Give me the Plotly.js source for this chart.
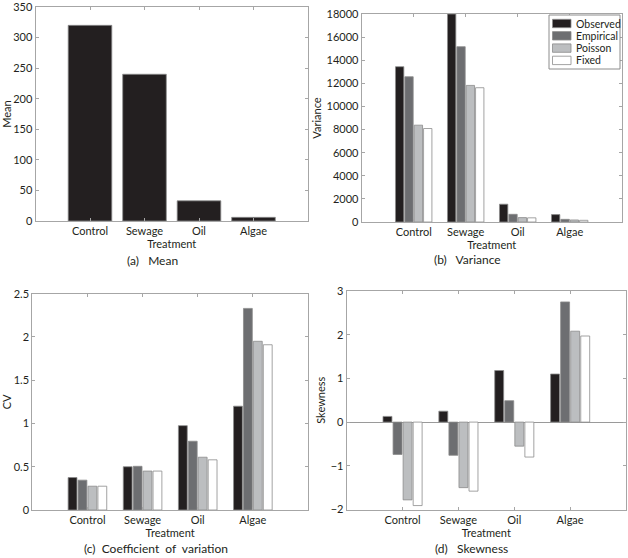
<!DOCTYPE html>
<html>
<head>
<meta charset="utf-8">
<script src="https://cdn.plot.ly/plotly-3.0.1.min.js"></script>
<style>html,body{margin:0;padding:0;background:#fff;}#chart{width:628px;height:558px;}</style>
</head>
<body>
<div id="chart"></div>
<script>
// ---- data ----
const categories = ['Control', 'Sewage', 'Oil', 'Algae'];
const seriesNames = ['Observed', 'Empirical', 'Poisson', 'Fixed'];

const meanValues = [320, 240, 33, 6];

const varObserved  = [13440, 18000, 1540, 640];
const varEmpirical = [12570, 15170, 665, 230];
const varPoisson   = [8380, 11820, 380, 175];
const varFixed     = [8090, 11620, 360, 145];

const cvObserved  = [0.375, 0.50, 0.975, 1.20];
const cvEmpirical = [0.345, 0.505, 0.795, 2.33];
const cvPoisson   = [0.275, 0.45, 0.61, 1.95];
const cvFixed     = [0.275, 0.45, 0.58, 1.91];

const skObserved  = [0.13, 0.25, 1.18, 1.10];
const skEmpirical = [-0.74, -0.76, 0.49, 2.75];
const skPoisson   = [-1.78, -1.50, -0.55, 2.08];
const skFixed     = [-1.91, -1.58, -0.80, 1.97];

const meanTicks = [0, 50, 100, 150, 200, 250, 300, 350];
const varTicks  = [0, 2000, 4000, 6000, 8000, 10000, 12000, 14000, 16000, 18000];
const cvTicks   = [0, 0.5, 1, 1.5, 2, 2.5];
const skTicks   = [-2, -1, 0, 1, 2, 3];

// ---- styling ----
const colors = ['#231f20', '#6d6e71', '#bcbec0', '#ffffff'];
const EDGE = '#8c8c8c';
const edge = {color: EDGE, width: 0.8};
const FONT = 'Lato, "Open Sans", sans-serif';
const TXT = '#231f20';
const AX = '#a6a6a6';
const EPS = 1e-6;

function groupTraces(vals, xa, ya) {
  return vals.map((v, i) => ({
    type: 'bar', x: categories, y: v, name: seriesNames[i],
    xaxis: xa, yaxis: ya, showlegend: false,
    marker: {color: colors[i], line: edge}
  }));
}

const traces = [
  {type: 'bar', x: categories, y: meanValues, name: 'Mean', xaxis: 'x', yaxis: 'y',
   width: 0.8, showlegend: false, marker: {color: colors[0], line: edge}},
  ...groupTraces([varObserved, varEmpirical, varPoisson, varFixed], 'x2', 'y2'),
  ...groupTraces([cvObserved, cvEmpirical, cvPoisson, cvFixed], 'x3', 'y3'),
  ...groupTraces([skObserved, skEmpirical, skPoisson, skFixed], 'x4', 'y4')
];

function xax(domain, anchor) {
  return {
    domain: domain, anchor: anchor, type: 'category', range: [-1, 4],
    showline: true, linecolor: AX, linewidth: 1, mirror: 'ticks',
    ticks: 'inside', ticklen: 3, tickcolor: AX, showgrid: false, zeroline: false,
    tickfont: {family: FONT, size: 11, color: TXT},
    title: {text: 'Treatment', font: {family: FONT, size: 11, color: TXT}, standoff: 0},
    automargin: false, fixedrange: true
  };
}
function yax(domain, anchor, ticks, title, standoff, zl) {
  const span = ticks[ticks.length - 1] - ticks[0];
  return {
    domain: domain, anchor: anchor,
    range: [ticks[0], ticks[ticks.length - 1] + span * EPS],
    tickmode: 'array', tickvals: ticks, tickformat: 'd',
    ticklabeloverflow: 'allow',
    showline: true, linecolor: AX, linewidth: 1, mirror: 'ticks',
    ticks: 'inside', ticklen: 3, tickcolor: AX, showgrid: false,
    zeroline: !!zl, zerolinecolor: '#9a9a9a', zerolinewidth: 1,
    tickfont: {family: FONT, size: 11, color: TXT},
    title: {text: title, font: {family: FONT, size: 11, color: TXT}, standoff: standoff},
    automargin: false, fixedrange: true
  };
}

const W = 628, H = 558;
const px = (a, b) => [a / W, b / W];
const py = (top, bottom) => [1 - bottom / H, 1 - top / H];

const yaxis3 = yax(py(293.7, 510), 'x3', cvTicks, 'CV', 2);
yaxis3.tickformat = '';
const yaxis4 = yax(py(291, 509.5), 'x4', skTicks, 'Skewness', 2, true);

// ---- hand-drawn legend box for panel (b) (paper pixel positions) ----
const LEG = {x0: 549, x1: 620, y0: 15, y1: 69, sw0: 552.5, sw1: 571, textX: 573.5, row0: 23.5, rowStep: 12.3, swH: 8.4};
const shapes = [{type: 'rect', xref: 'paper', yref: 'paper',
  x0: LEG.x0 / W, x1: LEG.x1 / W, y0: 1 - LEG.y1 / H, y1: 1 - LEG.y0 / H,
  line: {color: EDGE, width: 1}, fillcolor: '#fff', layer: 'above'}];
const legendText = [];
seriesNames.forEach((name, i) => {
  const cy = LEG.row0 + i * LEG.rowStep;
  shapes.push({type: 'rect', xref: 'paper', yref: 'paper',
    x0: LEG.sw0 / W, x1: LEG.sw1 / W, y0: 1 - (cy + LEG.swH / 2) / H, y1: 1 - (cy - LEG.swH / 2) / H,
    line: {color: EDGE, width: 0.8}, fillcolor: colors[i], layer: 'above'});
  legendText.push({text: name, x: LEG.textX / W, y: 1 - cy / H, xanchor: 'left', yanchor: 'middle',
    font: {family: FONT, size: 10.5, color: TXT}});
});

const capFont = {family: FONT, size: 12, color: TXT};
const layout = {
  width: W, height: H,
  margin: {l: 0, r: 0, t: 0, b: 0},
  paper_bgcolor: '#fff', plot_bgcolor: '#fff',
  showlegend: false,
  barmode: 'group', bargap: 0.28, bargroupgap: 0.11,
  font: {family: FONT, size: 11, color: TXT},
  xaxis:  xax(px(35.5, 308), 'y'),
  yaxis:  yax(py(7, 221), 'x', meanTicks, 'Mean', 3),
  xaxis2: xax(px(361.7, 621.7), 'y2'),
  yaxis2: yax(py(14, 222), 'x2', varTicks, 'Variance', 2),
  xaxis3: xax(px(32.3, 308), 'y3'),
  yaxis3: yaxis3,
  xaxis4: xax(px(346.7, 626), 'y4'),
  yaxis4: yaxis4,
  shapes: shapes,
  annotations: [
    {text: '(a)\u00a0\u00a0 Mean', x: 152 / W, y: 1 - 260 / H},
    {text: '(b)\u00a0\u00a0 Variance', x: 468 / W, y: 1 - 259 / H},
    {text: '(c)\u00a0 Coefficient\u00a0 of\u00a0 variation', x: 156 / W, y: 1 - 548 / H},
    {text: '(d)\u00a0\u00a0 Skewness', x: 471 / W, y: 1 - 548 / H},
    ...legendText
  ].map(a => Object.assign({xref: 'paper', yref: 'paper', xanchor: 'center', yanchor: 'middle',
                            showarrow: false, font: capFont}, a))
};

Plotly.newPlot('chart', traces, layout, {displayModeBar: false, staticPlot: true});
</script>
</body>
</html>
